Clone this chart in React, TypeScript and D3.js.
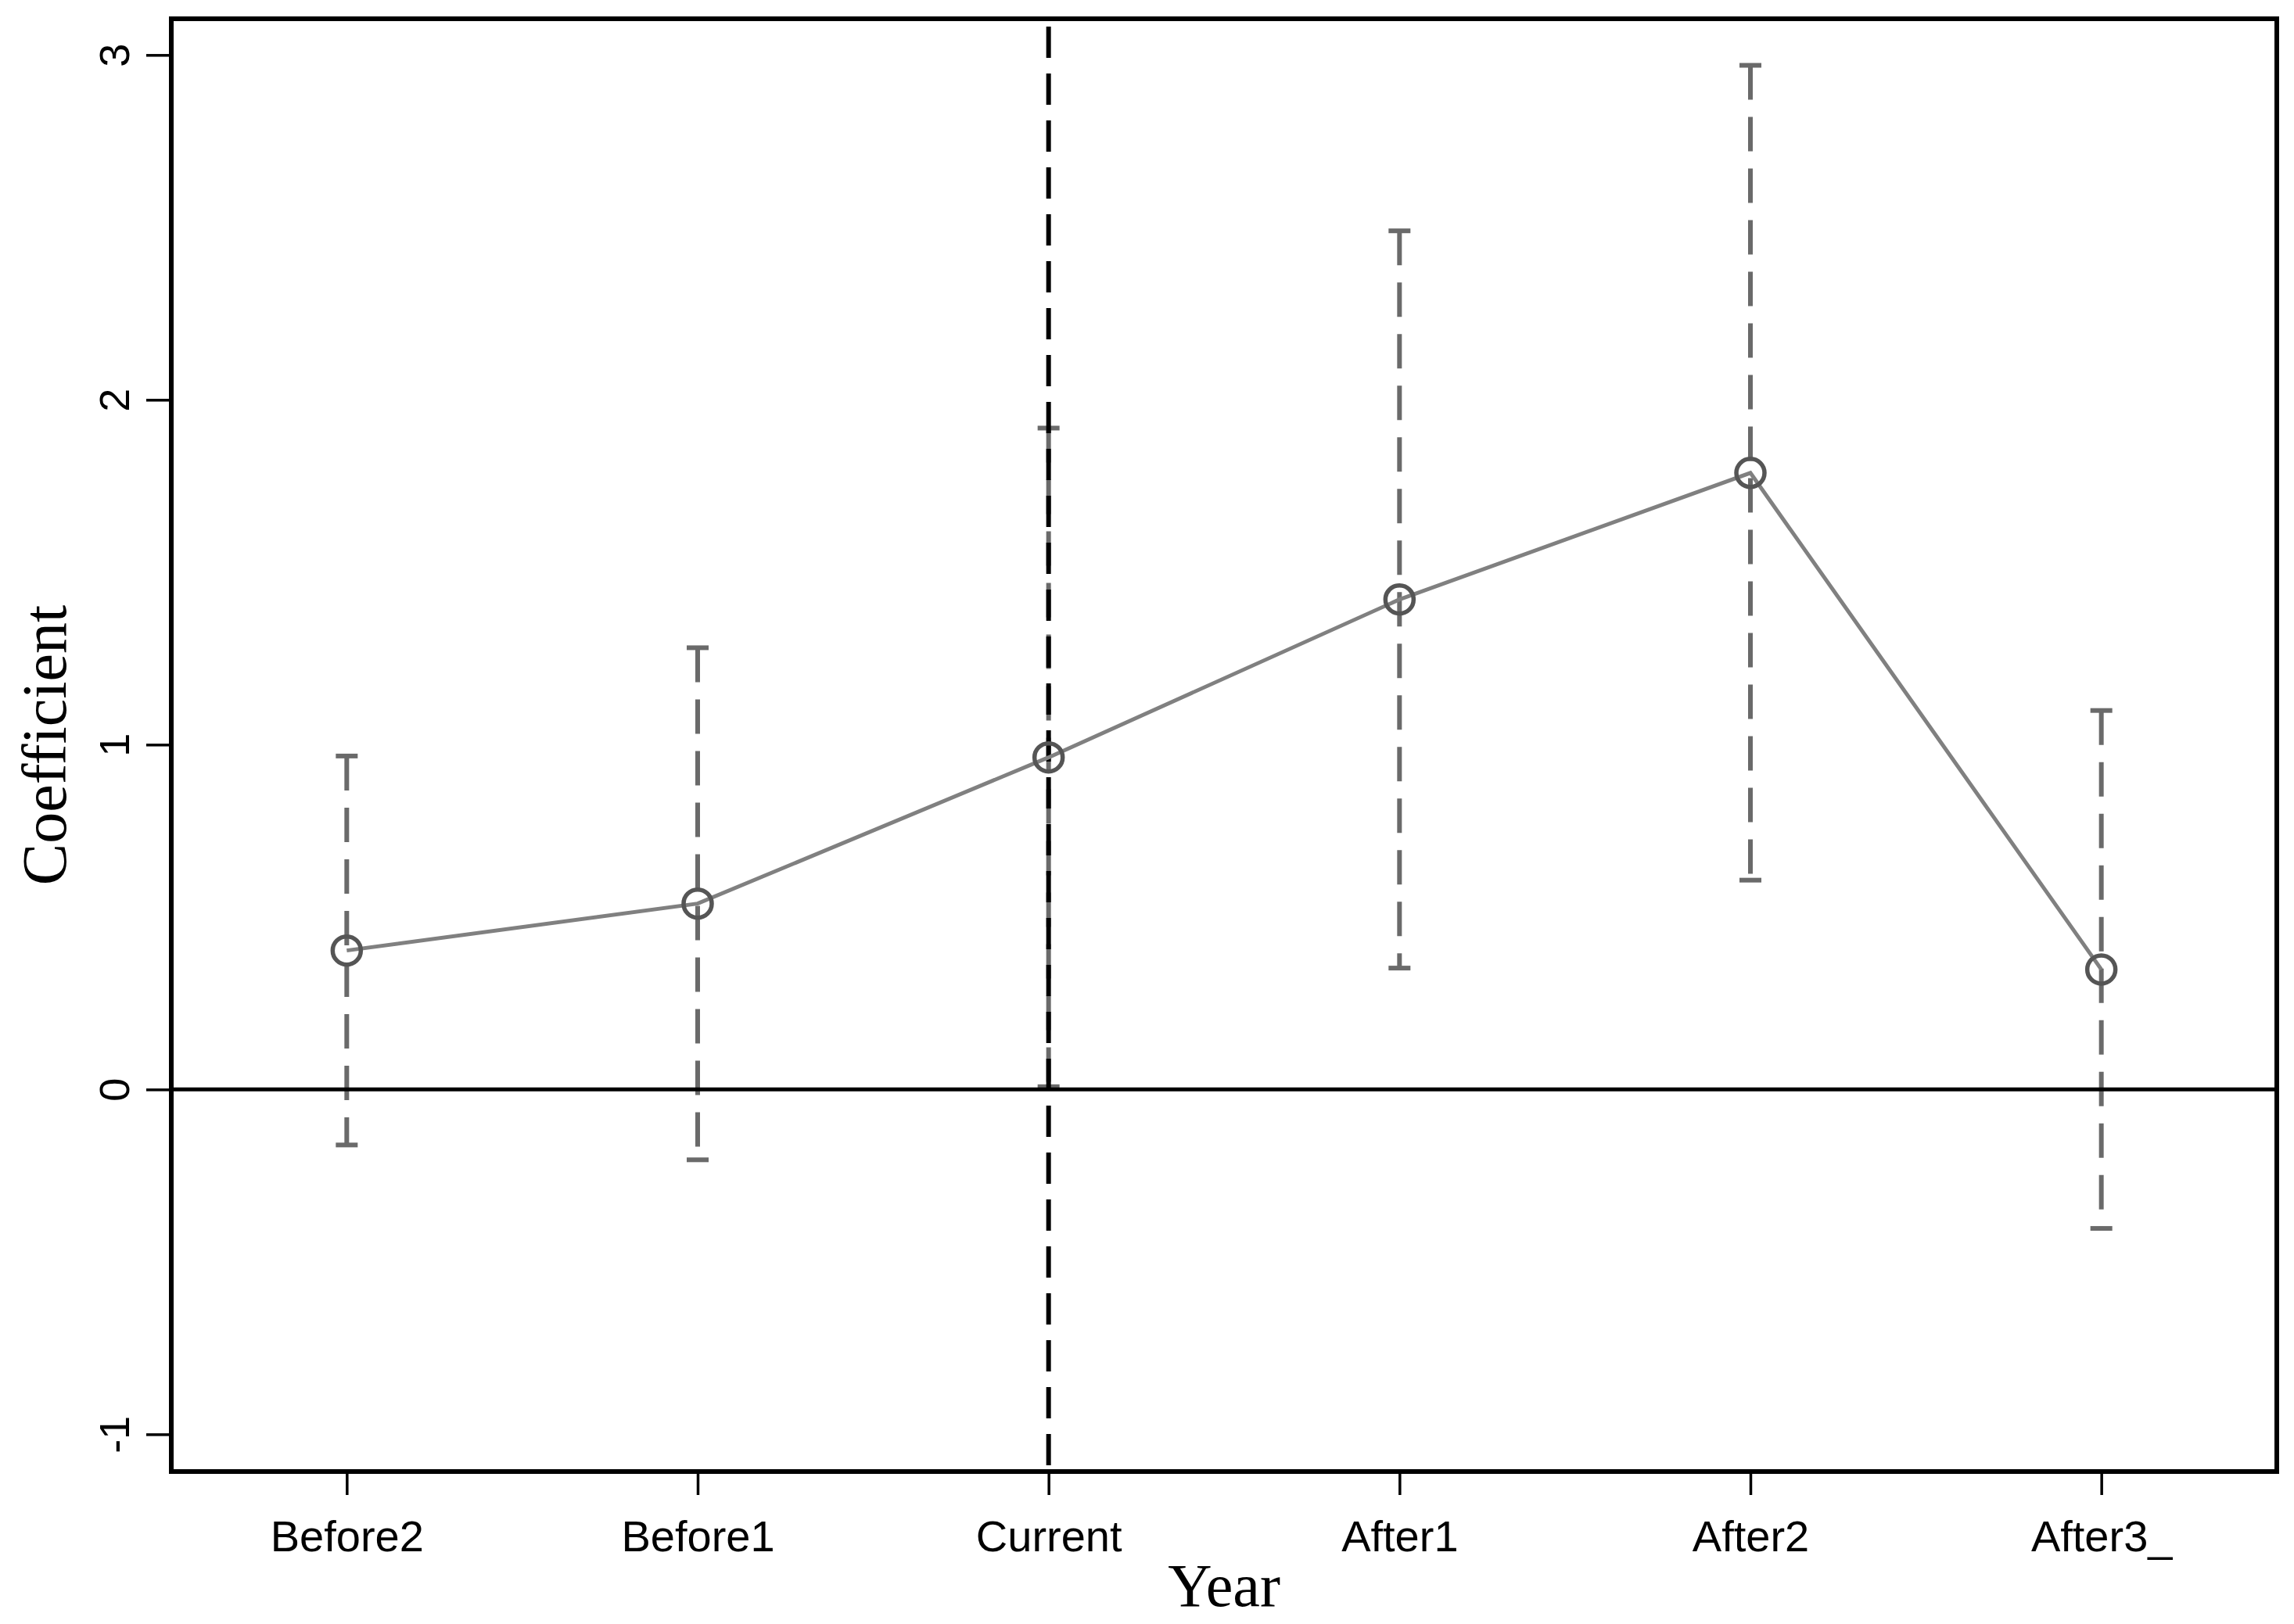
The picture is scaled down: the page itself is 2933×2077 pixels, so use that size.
import React, { useEffect, useRef } from "react";
import * as d3 from "d3";

const periods = ["Before2", "Before1", "Current", "After1", "After2", "After3_"];
const coefs = [0.403, 0.539, 0.963, 1.421, 1.788, 0.348];
const ciLow = [-0.161, -0.204, 0.008, 0.352, 0.607, -0.403];
const ciHigh = [0.967, 1.281, 1.918, 2.49, 2.97, 1.099];
const yTicks = [-1, 0, 1, 2, 3];
const eventPeriod = "Current";

const W = 2933;
const H = 2077;
const margin = { top: 24, right: 22, bottom: 195, left: 219 };

const App = () => {
  const ref = useRef<SVGSVGElement>(null);

  useEffect(() => {
    const svg = d3.select(ref.current);
    svg.selectAll("*").remove();

    const rows = periods.map((p, i) => ({ p, c: coefs[i], lo: ciLow[i], hi: ciHigh[i] }));

    const x = d3.scalePoint()
      .domain(periods)
      .range([margin.left, W - margin.right])
      .padding(0.5);

    const y = d3.scaleLinear()
      .domain([-1.108, 3.105])
      .range([H - margin.bottom, margin.top]);

    const sans = "'Liberation Sans', Arial, sans-serif";
    const serif = "'Liberation Serif', 'Times New Roman', serif";
    const grey = "#6a6a6a";

    // error bars (dashed with caps)
    const eb = svg.append("g").attr("stroke", grey).attr("stroke-width", 6);
    eb.selectAll("line.bar")
      .data(rows)
      .enter().append("line")
      .attr("x1", d => x(d.p)!)
      .attr("x2", d => x(d.p)!)
      .attr("y1", d => y(d.hi))
      .attr("y2", d => y(d.lo))
      .attr("stroke-dasharray", "44 22");
    eb.selectAll("line.capTop")
      .data(rows)
      .enter().append("line")
      .attr("x1", d => x(d.p)! - 14)
      .attr("x2", d => x(d.p)! + 14)
      .attr("y1", d => y(d.hi))
      .attr("y2", d => y(d.hi));
    eb.selectAll("line.capBot")
      .data(rows)
      .enter().append("line")
      .attr("x1", d => x(d.p)! - 14)
      .attr("x2", d => x(d.p)! + 14)
      .attr("y1", d => y(d.lo))
      .attr("y2", d => y(d.lo));

    // event line
    svg.append("line")
      .attr("x1", x(eventPeriod)!)
      .attr("x2", x(eventPeriod)!)
      .attr("y1", margin.top)
      .attr("y2", H - margin.bottom)
      .attr("stroke", "#000")
      .attr("stroke-width", 6)
      .attr("stroke-dasharray", "40 20")
      .attr("stroke-dashoffset", -10);

    // zero line
    svg.append("line")
      .attr("x1", margin.left)
      .attr("x2", W - margin.right)
      .attr("y1", y(0))
      .attr("y2", y(0))
      .attr("stroke", "#000")
      .attr("stroke-width", 5);

    // connecting line
    const line = d3.line<typeof rows[0]>()
      .x(d => x(d.p)!)
      .y(d => y(d.c));
    svg.append("path")
      .datum(rows)
      .attr("fill", "none")
      .attr("stroke", "#808080")
      .attr("stroke-width", 5);
    svg.select("path").attr("d", line);

    // markers
    svg.append("g")
      .selectAll("circle")
      .data(rows)
      .enter().append("circle")
      .attr("cx", d => x(d.p)!)
      .attr("cy", d => y(d.c))
      .attr("r", 18)
      .attr("fill", "none")
      .attr("stroke", "#555")
      .attr("stroke-width", 5.5);

    // y axis
    const ya = svg.append("g")
      .attr("transform", `translate(${margin.left},0)`)
      .call(d3.axisLeft(y).tickValues(yTicks).tickSize(32).tickPadding(0).tickFormat(d => String(d)));
    ya.select(".domain").remove();
    ya.selectAll("line").attr("stroke", "#000").attr("stroke-width", 3.5);
    ya.selectAll("text")
      .attr("x", null)
      .attr("dy", null)
      .attr("transform", "translate(-54,0) rotate(-90)")
      .attr("text-anchor", "middle")
      .attr("font-family", sans)
      .attr("font-size", 54)
      .attr("fill", "#000");

    // x axis
    const xa = svg.append("g")
      .attr("transform", `translate(0,${H - margin.bottom})`)
      .call(d3.axisBottom(x).tickSize(30).tickPadding(0));
    xa.select(".domain").remove();
    xa.selectAll("line").attr("stroke", "#000").attr("stroke-width", 3.5);
    xa.selectAll("text")
      .attr("y", 102)
      .attr("dy", null)
      .attr("font-family", sans)
      .attr("font-size", 56)
      .attr("fill", "#000");

    // frame
    svg.append("rect")
      .attr("x", margin.left)
      .attr("y", margin.top)
      .attr("width", W - margin.left - margin.right)
      .attr("height", H - margin.top - margin.bottom)
      .attr("fill", "none")
      .attr("stroke", "#000")
      .attr("stroke-width", 6);

    // axis titles
    svg.append("text")
      .attr("x", (margin.left + W - margin.right) / 2)
      .attr("y", 2054)
      .attr("text-anchor", "middle")
      .attr("font-family", serif)
      .attr("font-size", 78)
      .text("Year");

    svg.append("text")
      .attr("transform", `translate(84,${(margin.top + H - margin.bottom) / 2}) rotate(-90)`)
      .attr("text-anchor", "middle")
      .attr("font-family", serif)
      .attr("font-size", 80)
      .text("Coefficient");
  }, []);

  return (
    <svg ref={ref} width={W} height={H} style={{ position: "absolute", left: 0, top: 0, background: "#fff" }}></svg>
  );
};

export default App;
